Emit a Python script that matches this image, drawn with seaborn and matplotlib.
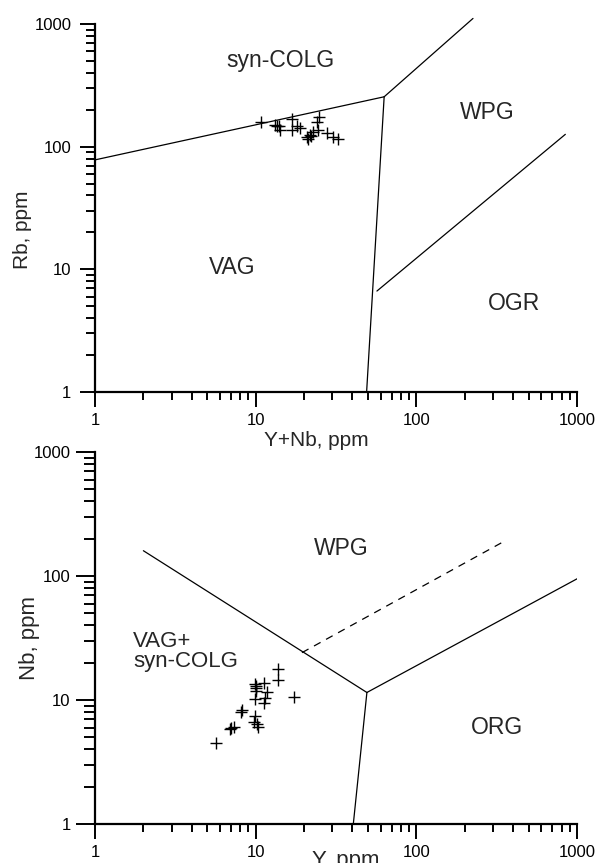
import matplotlib
matplotlib.use("Agg")
import matplotlib.pyplot as plt
import matplotlib.ticker as mticker
import seaborn as sns

# Rb vs Y+Nb (Pearce et al., 1984)
top_ynb = [10.8, 13.2, 13.6, 13.9, 14.2, 16.8, 16.8, 18.0, 18.9, 24.6, 24.1,
           21.8, 21.3, 21.0, 22.0, 22.8, 24.4, 27.7, 30.2, 32.7]
top_rb = [158, 150, 146, 148, 137, 167, 137, 147, 142, 175, 159,
          124, 115, 119, 121, 131, 137, 130, 120, 115]

# Nb vs Y
bot_y = [13.7, 13.8, 9.9, 10.1, 10.0, 11.2, 10.1, 11.7, 9.9, 11.4, 11.3, 17.4,
         8.1, 8.2, 9.9, 9.7, 10.3, 10.2, 7.3, 7.0, 6.9, 5.7]
bot_nb = [17.9, 14.5, 13.4, 12.9, 12.4, 13.8, 11.9, 11.5, 10.1, 10.3, 9.4, 10.5,
          8.0, 8.3, 7.4, 6.7, 6.1, 6.4, 6.1, 5.9, 5.8, 4.5]

# field boundaries (x, y)
top_lines = [
    ([1, 63], [78, 255]),
    ([63, 225], [255, 1110]),
    ([63, 49], [255, 1]),
    ([56.8, 845], [6.65, 126]),
]
bot_lines = [
    ([2.0, 49.2], [160, 11.5]),
    ([49.2, 1000], [11.5, 95]),
    ([49.2, 40.5], [11.5, 1]),
]
bot_dash = ([19.4, 340], [24.1, 186])

sns.set_style("ticks")
plt.rcParams["font.family"] = ["Liberation Sans", "DejaVu Sans"]

fig = plt.figure(figsize=(6.11, 8.63), dpi=100)
ax1 = fig.add_axes([0.1555, 0.5458, 0.789, 0.4264])
ax2 = fig.add_axes([0.1555, 0.0452, 0.789, 0.431])


def style_axis(ax, ylen, ypad, yminor):
    ax.set_xscale("log")
    ax.set_yscale("log")
    ax.set_xlim(1, 1000)
    ax.set_ylim(1, 1000)
    sns.despine(ax=ax)
    for s in ("left", "bottom"):
        ax.spines[s].set_linewidth(1.6)
        ax.spines[s].set_color("black")
    ax.xaxis.set_major_locator(mticker.FixedLocator([1, 10, 100, 1000]))
    ax.yaxis.set_major_locator(mticker.FixedLocator([1, 10, 100, 1000]))
    ax.xaxis.set_minor_locator(mticker.LogLocator(subs=range(2, 10)))
    ax.yaxis.set_minor_locator(mticker.LogLocator(subs=range(2, 10)))
    fmt = mticker.FuncFormatter(lambda v, p: f"{v:g}")
    ax.xaxis.set_major_formatter(fmt)
    ax.yaxis.set_major_formatter(fmt)
    ax.xaxis.set_minor_formatter(mticker.NullFormatter())
    ax.yaxis.set_minor_formatter(mticker.NullFormatter())
    ax.tick_params(axis="x", which="major", direction="out", length=11,
                   width=1.4, labelsize=12, colors="black", pad=4)
    ax.tick_params(axis="x", which="minor", direction="out", length=6,
                   width=1.4, colors="black")
    ax.tick_params(axis="y", which="major", direction="out", length=ylen,
                   width=1.4, labelsize=12, colors="black", pad=ypad)
    ax.tick_params(axis="y", which="minor", direction="out", length=yminor,
                   width=1.4, colors="black")


style_axis(ax1, 11, 6, 6.5)
style_axis(ax2, 13.5, 4, 8)

for xs, ys in top_lines:
    ax1.plot(xs, ys, color="black", lw=0.9, clip_on=False)
sns.scatterplot(x=top_ynb, y=top_rb, ax=ax1, marker="+", color="black",
                s=80, linewidth=1.0)
ax1.text(14.2, 508, "syn-COLG", fontsize=16.5, ha="center", va="center")
ax1.text(7.1, 10.3, "VAG", fontsize=16.5, ha="center", va="center")
ax1.text(276, 191, "WPG", fontsize=16.5, ha="center", va="center")
ax1.text(406, 5.3, "OGR", fontsize=16.5, ha="center", va="center")
ax1.set_xlabel("Y+Nb, ppm", fontsize=15)
ax1.set_ylabel("Rb, ppm", fontsize=15)
ax1.xaxis.set_label_coords(0.46, -0.105)
ax1.yaxis.set_label_coords(-0.13, 0.44)

for xs, ys in bot_lines:
    ax2.plot(xs, ys, color="black", lw=0.9)
ax2.plot(*bot_dash, color="black", lw=0.9, dashes=(6, 5))
sns.scatterplot(x=bot_y, y=bot_nb, ax=ax2, marker="+", color="black",
                s=80, linewidth=1.0)
ax2.text(33.9, 167, "WPG", fontsize=16.5, ha="center", va="center")
ax2.text(1.72, 29.5, "VAG+", fontsize=16, ha="left", va="center")
ax2.text(1.72, 20.5, "syn-COLG", fontsize=16, ha="left", va="center")
ax2.text(317, 6.0, "ORG", fontsize=16.5, ha="center", va="center")
ax2.set_xlabel("Y, ppm", fontsize=16, va="top")
ax2.set_ylabel("Nb, ppm", fontsize=16)
ax2.xaxis.set_label_coords(0.52, -0.07)
ax2.yaxis.set_label_coords(-0.115, 0.5)

fig.savefig("out.png", dpi=100)
